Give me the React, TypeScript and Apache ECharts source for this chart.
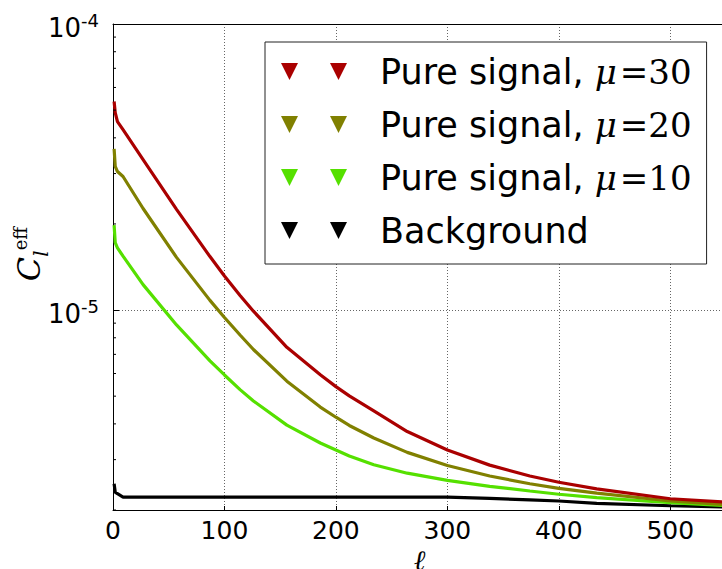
import React, { useEffect, useRef } from 'react';
import * as echarts from 'echarts';

// multipole ℓ at which values were read
const ELL = [1, 2, 4, 9, 27, 57, 87, 100, 114, 126, 156, 186, 200, 212, 234, 264, 300, 338, 374, 400, 434, 500, 550];

const MU30 = [5.36e-5, 4.9e-5, 4.56e-5, 4.27e-5, 3.357e-5, 2.249e-5, 1.538e-5, 1.315e-5, 1.125e-5, 9.91e-6, 7.41e-6, 5.94e-6, 5.4e-6, 5.01e-6, 4.44e-6, 3.76e-6, 3.24e-6, 2.87e-6, 2.63e-6, 2.5e-6, 2.37e-6, 2.19e-6, 2.13e-6];
const MU20 = [3.66e-5, 3.18e-5, 3.05e-5, 2.93e-5, 2.265e-5, 1.528e-5, 1.081e-5, 9.42e-6, 8.18e-6, 7.28e-6, 5.64e-6, 4.58e-6, 4.22e-6, 3.95e-6, 3.57e-6, 3.18e-6, 2.86e-6, 2.63e-6, 2.47e-6, 2.38e-6, 2.29e-6, 2.15e-6, 2.09e-6];
const MU10 = [1.98e-5, 1.72e-5, 1.65e-5, 1.543e-5, 1.227e-5, 8.87e-6, 6.64e-6, 5.93e-6, 5.27e-6, 4.81e-6, 3.96e-6, 3.43e-6, 3.24e-6, 3.09e-6, 2.88e-6, 2.69e-6, 2.54e-6, 2.42e-6, 2.33e-6, 2.27e-6, 2.21e-6, 2.12e-6, 2.07e-6];
const BACKGROUND = [2.47e-6, 2.31e-6, 2.28e-6, 2.22e-6, 2.22e-6, 2.22e-6, 2.22e-6, 2.22e-6, 2.22e-6, 2.22e-6, 2.22e-6, 2.22e-6, 2.22e-6, 2.22e-6, 2.22e-6, 2.22e-6, 2.22e-6, 2.196e-6, 2.17e-6, 2.15e-6, 2.11e-6, 2.07e-6, 2.05e-6];

const SERIES_NAMES = ['Pure signal, μ=30', 'Pure signal, μ=20', 'Pure signal, μ=10', 'Background'];
const SERIES_COLORS = ['#aa0000', '#808000', '#55e000', '#000000'];
const SERIES_VALUES = [MU30, MU20, MU10, BACKGROUND];

const X_MIN = 0;
const X_MAX = 550;
const X_INTERVAL = 100;
const Y_MIN = 2e-6;
const Y_MAX = 1e-4;
const MINOR_Y_TICKS = [2e-6, 3e-6, 4e-6, 5e-6, 6e-6, 7e-6, 8e-6, 9e-6, 2e-5, 3e-5, 4e-5, 5e-5, 6e-5, 7e-5, 8e-5, 9e-5];

const SANS = 'DejaVu Sans';
const SERIF = 'DejaVu Serif';

export default function App() {
  const ref = useRef<HTMLDivElement>(null);
  useEffect(() => {
    if (!ref.current) return;
    const chart = echarts.init(ref.current, undefined, { renderer: 'svg' });
    const gridLine = { show: true, lineStyle: { color: '#666', width: 1, type: [1, 2] as any } };
    const lineSeries = SERIES_NAMES.map((name, i) => ({
      type: 'line',
      name,
      data: ELL.map((l, j) => [l, SERIES_VALUES[i][j]]),
      showSymbol: false,
      symbol: 'none',
      color: SERIES_COLORS[i],
      itemStyle: { color: SERIES_COLORS[i] },
      lineStyle: { color: SERIES_COLORS[i], width: 3.2 },
      z: 10 - i,
    }));
    const option: any = {
      animation: false,
      backgroundColor: '#fff',
      grid: { left: 113, right: -4, top: 24, bottom: 59, containLabel: false, outerBoundsMode: 'none' },
      legend: {
        orient: 'vertical',
        left: 265,
        top: 42,
        data: SERIES_NAMES,
        icon: 'path://M0,0L17,0L8.5,17Z M49,0L66,0L57.5,17Z M94,8L94,9',
        itemWidth: 94,
        itemHeight: 17,
        itemGap: 18,
        padding: [12, 15, 16, 16],
        backgroundColor: '#fff',
        borderColor: '#222',
        borderWidth: 1,
        borderRadius: 0,
        itemStyle: { borderWidth: 0 },
        selectedMode: false,
        textStyle: {
          fontFamily: SANS,
          fontSize: 35,
          lineHeight: 35,
          color: '#000',
          rich: {
            t: { fontFamily: SANS, fontSize: 35, lineHeight: 35, color: '#000' },
            m: { fontFamily: SERIF, fontStyle: 'italic', fontSize: 34, lineHeight: 35, color: '#000' },
            n: { fontFamily: SERIF, fontSize: 34, lineHeight: 35, padding: [0, 0, 0, 3], color: '#000' },
          },
        },
        formatter: (name: string) => {
          const k = name.indexOf('μ=');
          if (k < 0) return `{t|${name}}`;
          return `{t|${name.slice(0, k)}}{m|μ}{n|=${name.slice(k + 2)}}`;
        },
      },
      xAxis: [
        {
          type: 'value',
          min: X_MIN,
          max: X_MAX,
          interval: X_INTERVAL,
          name: 'ℓ',
          nameLocation: 'middle',
          nameGap: 36,
          nameMoveOverlap: false,
          nameTextStyle: { fontFamily: SERIF, fontStyle: 'italic', fontSize: 28, color: '#000' },
          axisLine: { show: true, lineStyle: { color: '#000', width: 1 } },
          axisTick: { show: true, inside: true, length: 4, lineStyle: { color: '#000' } },
          axisLabel: { fontFamily: SANS, fontSize: 25, color: '#000', margin: 8, showMaxLabel: false },
          splitLine: gridLine,
        },
        {
          type: 'value',
          position: 'top',
          min: X_MIN,
          max: X_MAX,
          interval: X_INTERVAL,
          axisLine: { show: true, onZero: false, lineStyle: { color: '#000', width: 1 } },
          axisTick: { show: false },
          axisLabel: { show: false },
          splitLine: { show: false },
        },
      ],
      yAxis: {
        type: 'log',
        logBase: 10,
        min: Y_MIN,
        max: Y_MAX,
        name: '{c|C}{l|l}{e|eff}',
        nameLocation: 'middle',
        nameRotate: 90,
        nameGap: 62,
        nameMoveOverlap: false,
        nameTextStyle: {
          color: '#000',
          padding: [0, 0, 0, 26],
          rich: {
            c: { fontFamily: SERIF, fontStyle: 'italic', fontSize: 32, lineHeight: 40, verticalAlign: 'bottom', padding: [0, 0, 6, 0], color: '#000' },
            l: { fontFamily: SERIF, fontStyle: 'italic', fontSize: 20, lineHeight: 40, verticalAlign: 'bottom', padding: [0, 0, 0, 0], color: '#000' },
            e: { fontFamily: SERIF, fontSize: 18, lineHeight: 40, verticalAlign: 'bottom', padding: [0, 0, 22, 0], color: '#000' },
          },
        },
        axisLine: { show: true, lineStyle: { color: '#000', width: 1 } },
        axisTick: { show: true, inside: true, length: 6, lineStyle: { color: '#000' } },
        axisLabel: {
          margin: 14,
          formatter: (v: number) => {
            const lg = Math.log10(v);
            const e = Math.round(lg);
            if (Math.abs(lg - e) > 1e-6) return '';
            return `{b|10}{s|${e}}`;
          },
          rich: {
            b: { fontFamily: SANS, fontSize: 26, lineHeight: 34, verticalAlign: 'bottom', color: '#000' },
            s: { fontFamily: SANS, fontSize: 18, lineHeight: 34, verticalAlign: 'bottom', padding: [0, 0, 12, 0], color: '#000' },
          },
        },
        splitLine: gridLine,
      },
      series: [
        ...lineSeries,
        {
          type: 'custom',
          name: 'minorTicks',
          silent: true,
          clip: false,
          z: 20,
          data: MINOR_Y_TICKS.map((v) => [X_MIN, v]),
          encode: { x: 0, y: 1 },
          renderItem: (_p: any, api: any) => {
            const pt = api.coord([api.value(0), api.value(1)]);
            return {
              type: 'line',
              shape: { x1: pt[0], y1: pt[1], x2: pt[0] + 3, y2: pt[1] },
              style: { stroke: '#000', lineWidth: 1 },
            };
          },
        },
      ],
    };
    chart.setOption(option);
    return () => chart.dispose();
  }, []);
  return (
    <div
      ref={ref}
      style={{ position: 'absolute', left: 0, top: 0, width: 722, height: 569, background: '#fff' }}
    />
  );
}
